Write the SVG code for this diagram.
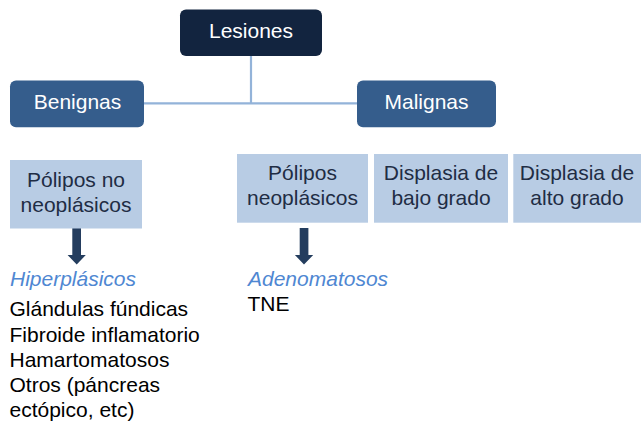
<svg xmlns="http://www.w3.org/2000/svg" width="642" height="421" viewBox="0 0 642 421">
<style>
text{font-family:"Liberation Sans",Arial,Helvetica,sans-serif;font-size:21px}
.c{text-anchor:middle}
.w{fill:#ffffff}
.d{fill:#1f2d44}
.k{fill:#000000}
.it{font-style:italic;fill:#4f87d2}
.top{fill:#12243f}
.mid{fill:#355d8c}
.lt{fill:#b8cce4}
.arr{fill:#243d5e}
</style>
<rect width="642" height="421" fill="#ffffff"/>
<g id="connectors">
<path d="M251 56V103.3M144 103.3H357" fill="none" stroke="#93b3d9" stroke-width="2.2"/>
<path class="arr" d="M72.3 228H81V255H85.8L76.7 264.5L67.6 255H72.3Z"/>
<path class="arr" d="M299.7 228H308.4V255H313.2L304 264.5L294.9 255H299.7Z"/>
</g>
<g id="lesiones">
<rect class="top" x="180" y="9.5" width="142" height="46.5" rx="6"/>
<text class="c w" x="251" y="37.5">Lesiones</text>
</g>
<g id="benignas">
<rect class="mid" x="10" y="80.5" width="134" height="46.8" rx="6"/>
<text class="c w" x="77.5" y="108.5">Benignas</text>
</g>
<g id="malignas">
<rect class="mid" x="357" y="80.5" width="139" height="46.8" rx="6"/>
<text class="c w" x="426.5" y="108.5">Malignas</text>
</g>
<g id="polipos-no-neoplasicos">
<rect class="lt" x="10" y="160" width="132" height="68.5"/>
<text class="c d" x="76" y="187">Pólipos no</text>
<text class="c d" x="76" y="212">neoplásicos</text>
</g>
<g id="polipos-neoplasicos">
<rect class="lt" x="237" y="154" width="131" height="68.7"/>
<text class="c d" x="302.5" y="180">Pólipos</text>
<text class="c d" x="302.5" y="205">neoplásicos</text>
</g>
<g id="displasia-bajo">
<rect class="lt" x="374" y="154" width="134" height="68.7"/>
<text class="c d" x="441" y="180">Displasia de</text>
<text class="c d" x="441" y="205">bajo grado</text>
</g>
<g id="displasia-alto">
<rect class="lt" x="513.3" y="154" width="127.7" height="68.7"/>
<text class="c d" x="577" y="180">Displasia de</text>
<text class="c d" x="577" y="205">alto grado</text>
</g>
<g id="hiperplasicos">
<text class="it" x="10" y="286">Hiperplásicos</text>
<text class="k" x="9.5" y="316">Glándulas fúndicas</text>
<text class="k" x="9.5" y="341.5">Fibroide inflamatorio</text>
<text class="k" x="9.5" y="366.5">Hamartomatosos</text>
<text class="k" x="9.5" y="392">Otros (páncreas</text>
<text class="k" x="9.5" y="417">ectópico, etc)</text>
</g>
<g id="adenomatosos">
<text class="it" x="248" y="286">Adenomatosos</text>
<text class="k" x="247.5" y="311">TNE</text>
</g>
</svg>
